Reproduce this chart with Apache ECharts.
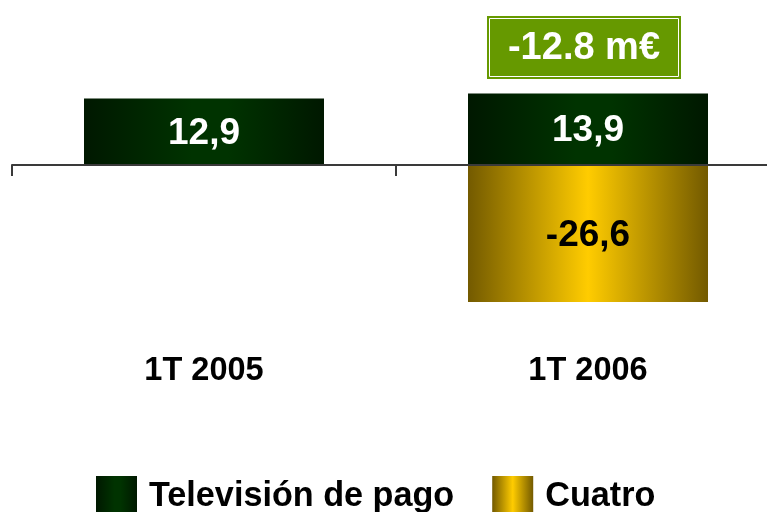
<!DOCTYPE html>
<html>
<head>
    <meta charset="UTF-8">
    <title></title>
    <style>
        html, body { margin: 0; padding: 0; background: #fff; }
        #main { width: 767px; height: 512px; }
    </style>
</head>
<body>
<div id="main"></div>
<script src="https://cdn.jsdelivr.net/npm/echarts@6/dist/echarts.min.js"></script>
<script type="text/javascript">
    // datos
    var categories = ['1T 2005', '1T 2006'];
    var seriesNames = ['Televisión de pago', 'Cuatro'];
    var pagoValues = [12.9, 13.9];
    var cuatroValues = [null, -26.6];
    var totalLabel = '-12.8 m€';

    var font = 'Arial, "Liberation Sans", sans-serif';

    function fmt(v) {
        return String(v).replace('.', ',');
    }

    var greenGrad = new echarts.graphic.LinearGradient(0, 0, 1, 0, [
        {offset: 0, color: '#001800'},
        {offset: 0.45, color: '#003300'},
        {offset: 0.6, color: '#003300'},
        {offset: 1, color: '#001800'}
    ]);
    var goldGrad = new echarts.graphic.LinearGradient(0, 0, 1, 0, [
        {offset: 0, color: '#735a00'},
        {offset: 0.5, color: '#ffcc00'},
        {offset: 1, color: '#735a00'}
    ]);

    var myChart = echarts.init(document.getElementById('main'));
    var option = {
        animation: false,
        textStyle: {fontFamily: font},
        grid: {left: 12, top: 10.5, width: 768, height: 463.5, containLabel: false, outerBoundsMode: 'none'},
        legend: {
            left: 96,
            top: 476,
            padding: 0,
            itemWidth: 41,
            itemHeight: 41,
            itemGap: 38,
            icon: 'rect',
            data: seriesNames,
            textStyle: {
                fontSize: 34.2,
                fontWeight: 'bold',
                color: '#000',
                fontFamily: font,
                padding: [6, 0, 0, 7]
            }
        },
        xAxis: {
            type: 'category',
            data: categories,
            z: 5,
            axisLine: {onZero: true, lineStyle: {color: '#3a3a3a', width: 2}},
            axisTick: {show: true, length: 11, lineStyle: {color: '#3a3a3a', width: 2}},
            axisLabel: {
                margin: -119,
                fontSize: 32.5,
                fontWeight: 'bold',
                color: '#000',
                fontFamily: font
            }
        },
        yAxis: {
            type: 'value',
            min: -60,
            max: 30,
            show: false,
            splitLine: {show: false}
        },
        series: [
            {
                name: seriesNames[0],
                type: 'bar',
                stack: 'total',
                barWidth: 240,
                data: pagoValues,
                itemStyle: {color: greenGrad},
                label: {
                    show: true,
                    position: 'inside',
                    offset: [0, 2],
                    color: '#fff',
                    fontSize: 37,
                    fontWeight: 'bold',
                    fontFamily: font,
                    formatter: function (p) { return fmt(p.value); }
                }
            },
            {
                name: seriesNames[1],
                type: 'bar',
                stack: 'total',
                barWidth: 240,
                data: cuatroValues,
                itemStyle: {color: goldGrad},
                label: {
                    show: true,
                    position: 'inside',
                    offset: [0, 2],
                    color: '#000',
                    fontSize: 37,
                    fontWeight: 'bold',
                    fontFamily: font,
                    formatter: function (p) { return fmt(p.value); }
                }
            }
        ],
        graphic: [
            {
                type: 'group',
                left: 487,
                top: 16,
                children: [
                    {type: 'rect', shape: {x: 0, y: 0, width: 194, height: 63}, style: {fill: '#669900'}},
                    {type: 'rect', shape: {x: 2.5, y: 2.5, width: 189, height: 58}, style: {fill: 'none', stroke: '#fff', lineWidth: 1}},
                    {
                        type: 'text',
                        x: 97,
                        y: 33,
                        style: {
                            text: totalLabel,
                            fill: '#fff',
                            font: 'bold 38px ' + font,
                            align: 'center',
                            verticalAlign: 'middle'
                        }
                    }
                ]
            }
        ]
    };
    myChart.setOption(option);
</script>
</body>
</html>
